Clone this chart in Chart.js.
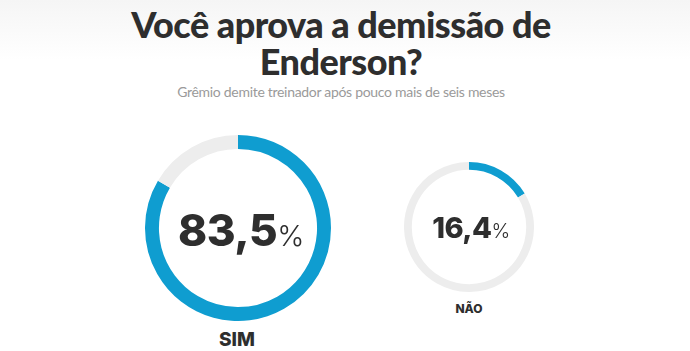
<!DOCTYPE html>
<html>
<head>
<meta charset="utf-8">
<script src="https://cdn.jsdelivr.net/npm/chart.js@4/dist/chart.umd.min.js"></script>
<style>
    html, body { margin: 0; padding: 0; }
    body {
        width: 690px; height: 351px; position: relative; overflow: hidden;
        background: linear-gradient(#f5f5f5 0px, #ffffff 60px);
        font-family: Inter, Lato, sans-serif; color: #2e2e2e;
    }
    .title {
        position: absolute; left: 0; width: 682px; top: 6px; text-align: center;
        font-family: Lato, sans-serif;
        font-size: 36px; font-weight: 900; line-height: 37px; letter-spacing: -0.5px;
    }
    .subtitle {
        position: absolute; left: 0; width: 682px; top: 83px; text-align: center;
        font-family: Lato, sans-serif;
        font-size: 14px; color: #9a9a9a; letter-spacing: -0.3px;
    }
    canvas { position: absolute; }
    .num { position: absolute; text-align: center; font-weight: 800; white-space: nowrap; letter-spacing: -0.5px; }
    .num span { font-weight: 300; }
    .lbl { position: absolute; text-align: center; font-weight: 800; }
</style>
</head>
<body>
<div class="title">Você aprova a demissão de<br>Enderson?</div>
<div class="subtitle">Grêmio demite treinador após pouco mais de seis meses</div>

<canvas id="simChart" width="186" height="186" style="left:145px; top:135px;"></canvas>
<canvas id="naoChart" width="130" height="130" style="left:404px; top:162px;"></canvas>

<div class="num" id="simValue" style="left:141px; width:200px; top:203px; font-size:44px;"></div>
<div class="num" id="naoValue" style="left:371px; width:200px; top:210px; font-size:29px;"></div>
<div class="lbl" id="simLabel" style="left:187px; width:100px; top:328px; font-size:19px;"></div>
<div class="lbl" id="naoLabel" style="left:419px; width:100px; top:301px; font-size:12px;"></div>

<script>
const labels = ['SIM', 'NÃO'];
const values = [83.5, 16.4];

const blue = '#0f9dd0';
const track = '#ededed';

function formatValue(v) {
    return v.toFixed(1).replace('.', ',');
}

function drawRing(canvasId, value, cutout) {
    const ctx = document.getElementById(canvasId).getContext('2d');
    return new Chart(ctx, {
        type: 'doughnut',
        data: {
            labels: ['Votos', ''],
            datasets: [{
                data: [value, 100 - value],
                backgroundColor: [blue, track],
                borderWidth: 0
            }]
        },
        options: {
            responsive: false,
            animation: false,
            cutout: cutout,
            plugins: {
                legend: { display: false },
                tooltip: { enabled: false }
            }
        }
    });
}

drawRing('simChart', values[0], '85%');
drawRing('naoChart', values[1], '88%');

document.getElementById('simValue').innerHTML = formatValue(values[0]) + '<span style="font-size:29px;">%</span>';
document.getElementById('naoValue').innerHTML = formatValue(values[1]) + '<span style="font-size:20px;">%</span>';
document.getElementById('simLabel').innerText = labels[0];
document.getElementById('naoLabel').innerText = labels[1];
</script>
</body>
</html>
